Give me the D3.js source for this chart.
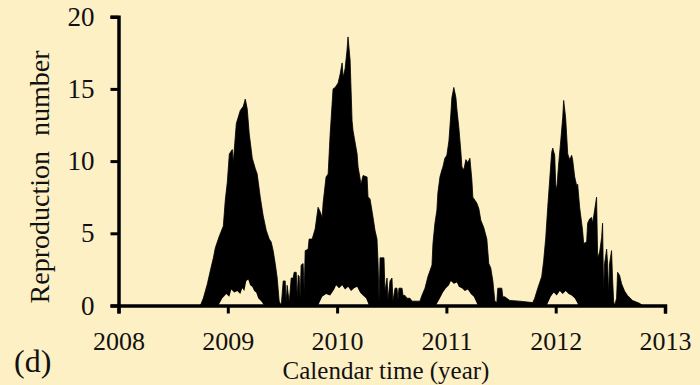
<!DOCTYPE html>
<html>
<head>
<meta charset="utf-8">
<script src="https://cdn.jsdelivr.net/npm/d3@7"></script>
<style>
  html, body { margin: 0; padding: 0; background: #fdf0c4; }
  svg { display: block; }
  text { font-family: "Liberation Serif", "Times New Roman", serif; fill: #111; }
</style>
</head>
<body>
<svg id="chart" width="700" height="385"></svg>
<script>
// Daily reproduction number: upper envelope of the oscillating series
const upperTime = [
  2008.000, 2008.749, 2008.776, 2008.813, 2008.840, 2008.868, 2008.886, 2008.922, 2008.959, 2008.977,
  2008.995, 2009.014, 2009.041, 2009.050, 2009.078, 2009.114, 2009.142, 2009.160, 2009.178, 2009.196,
  2009.224, 2009.251, 2009.269, 2009.297, 2009.324, 2009.352, 2009.379, 2009.397, 2009.415, 2009.434,
  2009.452, 2009.470, 2009.489, 2009.507, 2009.525, 2009.534, 2009.543, 2009.562, 2009.580, 2009.598,
  2009.607, 2009.626, 2009.635, 2009.644, 2009.653, 2009.662, 2009.671, 2009.689, 2009.699, 2009.708,
  2009.735, 2009.744, 2009.772, 2009.799, 2009.826, 2009.845, 2009.863, 2009.872, 2009.899, 2009.918,
  2009.936, 2009.963, 2009.982, 2010.009, 2010.027, 2010.046, 2010.055, 2010.073, 2010.091, 2010.100,
  2010.119, 2010.137, 2010.146, 2010.183, 2010.192, 2010.219, 2010.237, 2010.274, 2010.283, 2010.301,
  2010.329, 2010.347, 2010.365, 2010.374, 2010.384, 2010.393, 2010.429, 2010.438, 2010.457, 2010.466,
  2010.484, 2010.502, 2010.511, 2010.530, 2010.548, 2010.557, 2010.566, 2010.594, 2010.603, 2010.621,
  2010.639, 2010.667, 2010.685, 2010.758, 2010.776, 2010.804, 2010.831, 2010.868, 2010.877, 2010.895,
  2010.913, 2010.922, 2010.941, 2010.959, 2010.968, 2010.986, 2011.004, 2011.023, 2011.041, 2011.050,
  2011.068, 2011.087, 2011.096, 2011.114, 2011.132, 2011.142, 2011.160, 2011.178, 2011.196, 2011.215,
  2011.233, 2011.242, 2011.278, 2011.297, 2011.315, 2011.342, 2011.370, 2011.388, 2011.406, 2011.425,
  2011.443, 2011.461, 2011.470, 2011.507, 2011.516, 2011.534, 2011.580, 2011.671, 2011.790, 2011.808,
  2011.836, 2011.872, 2011.890, 2011.909, 2011.927, 2011.945, 2011.963, 2011.973, 2011.991, 2012.000,
  2012.009, 2012.027, 2012.046, 2012.064, 2012.073, 2012.091, 2012.110, 2012.128, 2012.146, 2012.155,
  2012.174, 2012.192, 2012.201, 2012.219, 2012.246, 2012.256, 2012.283, 2012.292, 2012.311, 2012.329,
  2012.338, 2012.356, 2012.374, 2012.384, 2012.402, 2012.420, 2012.429, 2012.438, 2012.447, 2012.466,
  2012.475, 2012.484, 2012.493, 2012.511, 2012.520, 2012.530, 2012.539, 2012.557, 2012.566, 2012.584,
  2012.603, 2012.630, 2012.657, 2012.703, 2012.767, 2012.794, 2013.000
];
const upperValue = [
  0.0, 0.0, 0.5, 1.5, 2.4, 3.3, 4.0, 4.8, 5.5, 7.3,
  8.5, 10.5, 10.8, 9.9, 12.6, 13.5, 13.8, 14.3, 13.6, 11.9,
  10.2, 9.5, 9.1, 7.5, 6.2, 5.2, 4.6, 4.4, 3.8, 2.9,
  1.9, 0.3, 0.0, 1.7, 1.7, 0.2, 1.4, 0.2, 1.9, 1.9,
  2.3, 2.3, 0.5, 2.1, 2.0, 0.5, 2.8, 2.9, 1.0, 3.8,
  3.9, 4.6, 4.6, 5.3, 6.8, 6.5, 6.1, 7.1, 8.9, 9.1,
  11.8, 15.0, 15.1, 15.4, 16.0, 16.8, 15.8, 16.4, 17.7, 18.6,
  17.0, 12.8, 12.1, 10.5, 9.6, 8.4, 9.0, 8.9, 7.5, 7.4,
  6.1, 5.2, 4.6, 3.1, 0.3, 3.3, 3.3, 1.0, 1.9, 0.4,
  1.7, 1.9, 0.3, 1.2, 1.2, 0.4, 1.2, 1.2, 0.7, 0.7,
  0.5, 0.5, 0.3, 0.3, 0.7, 1.2, 2.0, 2.8, 4.3, 5.7,
  6.6, 7.8, 8.9, 9.4, 9.6, 10.2, 10.4, 11.4, 13.3, 14.4,
  15.1, 14.4, 13.6, 12.3, 10.7, 9.6, 9.4, 10.1, 9.9, 10.2,
  8.7, 7.5, 7.1, 6.7, 5.9, 5.4, 4.6, 2.9, 2.6, 1.7,
  0.3, 0.2, 1.2, 1.2, 0.6, 0.6, 0.35, 0.3, 0.2, 0.5,
  1.2, 2.0, 3.1, 4.7, 6.8, 8.7, 10.6, 10.9, 10.4, 8.4,
  8.0, 9.8, 11.4, 13.0, 14.2, 13.0, 10.5, 10.1, 10.4, 10.1,
  8.9, 8.3, 8.4, 6.8, 5.2, 4.3, 4.4, 5.7, 6.0, 6.1,
  5.7, 6.6, 7.5, 3.3, 3.7, 4.7, 5.7, 1.0, 2.9, 3.9,
  2.9, 0.8, 2.9, 3.8, 1.9, 0.3, 0.0, 0.5, 2.3, 2.1,
  1.5, 1.0, 0.7, 0.35, 0.15, 0.0, 0.0
];

// Lower envelope inside each epidemic season
const lowerTime = [
  [2008.913, 2008.950, 2008.986, 2009.014, 2009.032, 2009.059, 2009.087, 2009.114, 2009.132, 2009.151,
   2009.169, 2009.187, 2009.205, 2009.224, 2009.242, 2009.260, 2009.278, 2009.306, 2009.333],
  [2009.826, 2009.863, 2009.899, 2009.936, 2009.973, 2009.991, 2010.018, 2010.046, 2010.073, 2010.100,
   2010.128, 2010.155, 2010.183, 2010.210, 2010.237, 2010.265, 2010.292],
  [2010.904, 2010.941, 2010.968, 2010.995, 2011.023, 2011.041, 2011.068, 2011.096, 2011.114, 2011.142,
   2011.169, 2011.196, 2011.224, 2011.251, 2011.288],
  [2011.918, 2011.954, 2011.982, 2012.009, 2012.037, 2012.064, 2012.091, 2012.119, 2012.146, 2012.174,
   2012.210]
];
const lowerValue = [
  [0.0, 0.5, 0.8, 0.6, 1.1, 0.9, 1.0, 0.8, 1.2, 1.0,
   1.7, 1.8, 1.4, 1.3, 1.0, 0.9, 0.5, 0.3, 0.0],
  [0.0, 0.6, 0.8, 0.7, 1.1, 1.4, 1.2, 1.4, 1.1, 1.3,
   1.0, 1.2, 1.3, 0.9, 0.7, 0.5, 0.0],
  [0.0, 0.5, 0.9, 1.2, 1.4, 1.7, 1.5, 1.6, 1.3, 1.2,
   1.0, 1.1, 0.8, 0.6, 0.0],
  [0.0, 0.6, 0.9, 0.7, 1.0, 0.8, 1.0, 0.8, 0.7, 0.5,
   0.0]
];

const yearTicks = [2008, 2009, 2010, 2011, 2012, 2013];
const valueTicks = [0, 5, 10, 15, 20];

const bg = "#fdf0c4";
const svg = d3.select("#chart");
svg.append("rect").attr("width", 700).attr("height", 385).attr("fill", bg);

const x = d3.scaleLinear().domain([2008, 2013]).range([118.5, 665]);
const y = d3.scaleLinear().domain([0, 20]).range([305.5, 16.7]);

// Filled envelope of the daily series
const upper = d3.area()
  .x((d, i) => x(upperTime[i]))
  .y0(y(0))
  .y1(d => y(d));

svg.append("path")
  .datum(upperValue)
  .attr("d", upper)
  .attr("fill", "#000")
  .attr("stroke", "#000")
  .attr("stroke-width", 0.8)
  .attr("stroke-linejoin", "miter");

// Troughs of the daily oscillation leave an open band near zero
lowerValue.forEach((vals, k) => {
  const times = lowerTime[k];
  const lower = d3.area()
    .x((d, i) => x(times[i]))
    .y0(y(0))
    .y1(d => y(d));
  svg.append("path")
    .datum(vals)
    .attr("d", lower)
    .attr("fill", bg);
});

// Axes
const xAxis = d3.axisBottom(x)
  .tickValues(yearTicks)
  .tickFormat(d3.format("d"))
  .tickSize(8)
  .tickPadding(18);
const yAxis = d3.axisLeft(y)
  .tickValues(valueTicks)
  .tickFormat(d3.format("d"))
  .tickSize(8)
  .tickPadding(16);

const gx = svg.append("g").attr("transform", `translate(0,${y(0)})`).call(xAxis);
const gy = svg.append("g").attr("transform", `translate(${x(2008)},0)`).call(yAxis);

[gx, gy].forEach(g => {
  g.select(".domain").attr("stroke", "#000").attr("stroke-width", 3.5);
  g.selectAll(".tick line").attr("stroke", "#000").attr("stroke-width", 3);
  g.selectAll(".tick text")
    .attr("font-family", "Liberation Serif, serif")
    .attr("fill", "#111");
});
gx.selectAll(".tick text").attr("font-size", 26);
gy.selectAll(".tick text").attr("font-size", 27);

// Titles
svg.append("text")
  .attr("x", 386)
  .attr("y", 379)
  .attr("text-anchor", "middle")
  .attr("font-size", 25)
  .text("Calendar time (year)");

svg.append("text")
  .attr("transform", "translate(49,177) rotate(-90)")
  .attr("text-anchor", "middle")
  .attr("font-size", 28)
  .attr("word-spacing", 8)
  .text("Reproduction number");

svg.append("text")
  .attr("x", 14)
  .attr("y", 372)
  .attr("font-size", 32)
  .text("(d)");
</script>
</body>
</html>
